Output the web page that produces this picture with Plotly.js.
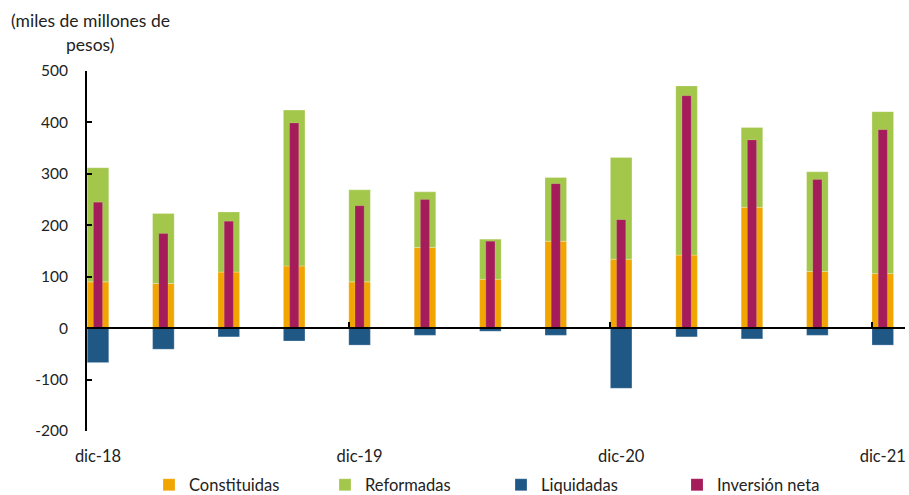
<!DOCTYPE html>
<html>
<head>
<meta charset="utf-8">
<script src="https://cdn.plot.ly/plotly-3.0.1.min.js"></script>
<style>html,body{margin:0;padding:0;background:#fff;}#chart{width:909px;height:495px;}</style>
</head>
<body>
<div id="chart"></div>
<script>
const categories = ["dic-18","mar-19","jun-19","sep-19","dic-19","mar-20","jun-20","sep-20","dic-20","mar-21","jun-21","sep-21","dic-21"];
const constituidas = [90, 87, 109, 121, 90, 157, 95, 169, 134, 142, 235, 110, 106];
const reformadas   = [222, 136, 117, 303, 179, 108, 78, 124, 198, 329, 155, 194, 315];
const liquidadas   = [-67, -41, -17, -25, -33, -14, -6, -14, -117, -17, -21, -14, -33];
const inversionNeta = [245, 184, 208, 399, 238, 250, 169, 281, 211, 452, 366, 289, 386];
const tickLabels = ["dic-18","dic-19","dic-20","dic-21"];
const yTickValues = [-200, -100, 0, 100, 200, 300, 400, 500];

const idx = categories.map((_, i) => i);
const labelIdx = tickLabels.map(t => categories.indexOf(t));
const tickMarkPos = labelIdx.map(i => i - 0.168);

const font = "Lato, 'Open Sans', sans-serif";
const xr = [-0.168, 12.34];

const traces = [
  {type:'bar', name:'Constituidas', x: idx, y: constituidas, marker:{color:'#F0A500', line:{color:'rgba(255,255,255,0.5)', width:0.5}}, width:0.33},
  {type:'bar', name:'Reformadas', x: idx, y: reformadas, marker:{color:'#A3C74B', line:{color:'rgba(255,255,255,0.5)', width:0.5}}, width:0.33},
  {type:'bar', name:'Liquidadas', x: idx, y: liquidadas, marker:{color:'#1F5785', line:{color:'rgba(255,255,255,0.5)', width:0.5}}, width:0.33},
  {type:'bar', name:'Inversión neta', x: idx, y: inversionNeta, xaxis:'x2', marker:{color:'#A51C5A', line:{color:'rgba(255,255,255,0.3)', width:0.5}}, width:0.14}
];

const layout = {
  width: 909, height: 495,
  margin: {l: 87, r: 4, t: 71, b: 64, autoexpand: false},
  paper_bgcolor: '#fff', plot_bgcolor: '#fff',
  barmode: 'relative',
  showlegend: true,
  font: {family: font, size: 15, color: '#222'},
  xaxis: {
    range: xr, anchor: 'free', position: 200/700,
    showline: true, linecolor: '#000', linewidth: 2,
    tickmode: 'array', tickvals: tickMarkPos, ticktext: tickLabels.map(() => ''),
    ticks: 'inside', ticklen: 5, tickwidth: 2, tickcolor: '#000',
    showgrid: false, zeroline: false, fixedrange: true
  },
  xaxis2: {
    range: xr, overlaying: 'x', anchor: 'y', side: 'bottom',
    showline: false, ticks: '', showgrid: false, zeroline: false,
    tickmode: 'array', tickvals: labelIdx, ticktext: tickLabels,
    tickfont: {family: font, size: 16.5, color: '#222'},
    ticklabelstandoff: 13
  },
  yaxis: {
    range: [-200, 500], tickmode: 'array', tickvals: yTickValues, ticktext: yTickValues.map(v => String(v)),
    showline: true, linecolor: '#000', linewidth: 2,
    ticks: 'inside', ticklen: 5, tickwidth: 2, tickcolor: '#000',
    showgrid: false, zeroline: false,
    tickfont: {family: font, size: 15.5, color: '#222'},
    ticklabelstandoff: 14
  },
  legend: {
    orientation: 'h', xref: 'container', yref: 'container',
    x: 149/909, xanchor: 'left', y: 1 - 485/495, yanchor: 'middle',
    entrywidth: 131, entrywidthmode: 'pixels',
    font: {family: font, size: 16.5, color: '#222'},
    traceorder: 'normal', itemclick: false
  },
  annotations: [
    {xref:'paper', yref:'paper', x: 0.004, y: 1.0, yshift: 51, xanchor:'center', yanchor:'middle',
     text:'(miles de millones de', showarrow:false, font:{family: font, size: 17.5, color:'#222'}},
    {xref:'paper', yref:'paper', x: 0.004, y: 1.0, yshift: 27, xanchor:'center', yanchor:'middle',
     text:'pesos)', showarrow:false, font:{family: font, size: 17.5, color:'#222'}}
  ]
};

Plotly.newPlot('chart', traces, layout, {displayModeBar: false, staticPlot: true});
</script>
</body>
</html>
